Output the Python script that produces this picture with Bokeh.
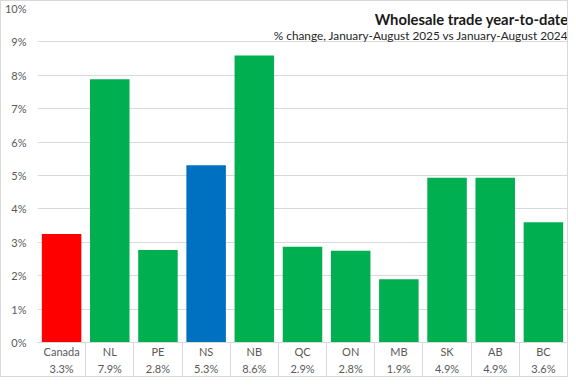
from bokeh.plotting import figure
from bokeh.models import (Range1d, LinearAxis, FixedTicker, Label,
                          ColumnDataSource, Grid)
from bokeh.embed import file_html
from bokeh.resources import INLINE

# ---- data ----
categories = ["Canada", "NL", "PE", "NS", "NB", "QC", "ON", "MB", "SK", "AB", "BC"]
changes = [3.25, 7.88, 2.77, 5.31, 8.59, 2.87, 2.75, 1.89, 4.93, 4.93, 3.60]
value_labels = ["3.3%", "7.9%", "2.8%", "5.3%", "8.6%", "2.9%", "2.8%", "1.9%",
                "4.9%", "4.9%", "3.6%"]
bar_colors = ["#FF0000", "#00B050", "#00B050", "#0070C0", "#00B050", "#00B050",
              "#00B050", "#00B050", "#00B050", "#00B050", "#00B050"]
y_ticks = list(range(0, 11))
y_tick_labels = [f"{t}%" for t in y_ticks]
title_text = "Wholesale trade year-to-date"
subtitle_text = "% change, January-August 2025 vs January-August 2024"

FONT = "Lato"
GRID = "#d9d9d9"
TXT = "#595959"

n = len(categories)
idx = list(range(n))
src = ColumnDataSource(dict(i=idx, cat=categories, val=changes, color=bar_colors))

p = figure(width=568, height=377,
           x_range=Range1d(-0.5, n - 0.5),
           y_range=Range1d(y_ticks[0], y_ticks[-1]),
           x_axis_type=None, y_axis_type=None,
           output_backend="svg", toolbar_location=None,
           min_border_left=36, min_border_right=2, min_border_top=7, min_border_bottom=36,
           outline_line_color=None, background_fill_color="white",
           border_fill_color="white",
           styles={"border": "1px solid #d9d9d9"})

yticker = FixedTicker(ticks=y_ticks)
p.add_layout(Grid(dimension=1, ticker=yticker, grid_line_color=GRID, grid_line_width=1))

p.vbar(x="i", top="val", width=0.82, fill_color="color", line_color=None, source=src)

yaxis = LinearAxis(ticker=yticker,
                   major_label_overrides=dict(zip(y_ticks, y_tick_labels)),
                   axis_line_color=None, major_tick_line_color=None,
                   minor_tick_line_color=None, major_tick_out=0, major_tick_in=0,
                   minor_tick_out=0, minor_tick_in=0,
                   major_label_standoff=11,
                   major_label_text_font=FONT, major_label_text_font_size="11px",
                   major_label_text_color=TXT)
p.add_layout(yaxis, "left")

xaxis = LinearAxis(ticker=FixedTicker(ticks=idx,
                                      minor_ticks=[i + 0.5 for i in idx[:-1]]),
                   major_label_overrides={i: f"{c}\n{v}" for i, c, v in
                                          zip(idx, categories, value_labels)},
                   axis_line_color=GRID, axis_line_width=1,
                   major_tick_line_color=None, major_tick_out=0, major_tick_in=0,
                   minor_tick_line_color=GRID, minor_tick_in=0, minor_tick_out=37,
                   major_label_standoff=-35,
                   major_label_text_font=FONT, major_label_text_font_size="11px",
                   major_label_text_color=TXT, major_label_text_line_height=1.34)
p.add_layout(xaxis, "below")

p.add_layout(Label(x=531, y=324, x_units="screen", y_units="screen", text=title_text,
                   text_align="right", text_baseline="middle", text_font=FONT,
                   text_font_style="bold", text_font_size="14.8px", text_color="#1a1a1a"))
p.add_layout(Label(x=531, y=307, x_units="screen", y_units="screen", text=subtitle_text,
                   text_align="right", text_baseline="middle", text_font=FONT,
                   text_font_size="11.8px", text_color="#262626"))

open("out.html", "w").write(file_html(p, INLINE))
